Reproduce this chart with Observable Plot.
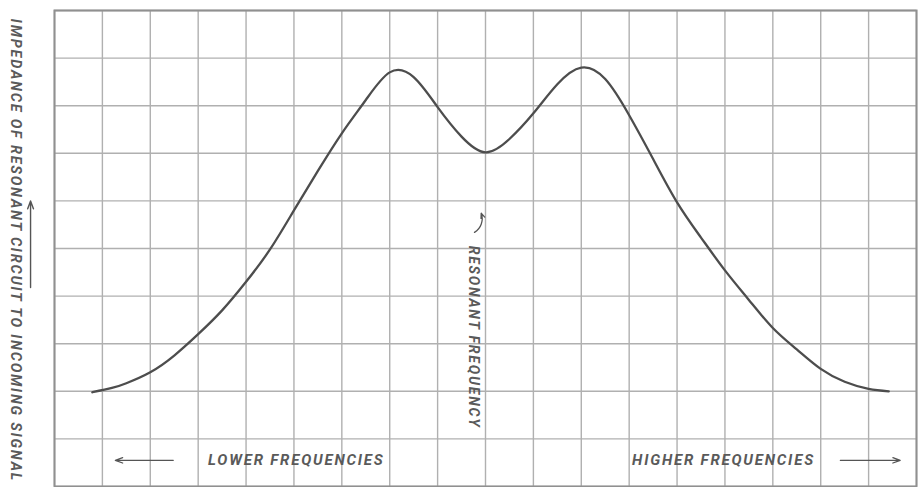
<!DOCTYPE html>
<html>
<head>
<meta charset="utf-8">
<script src="https://cdn.jsdelivr.net/npm/d3@7"></script>
<script src="https://cdn.jsdelivr.net/npm/@observablehq/plot@0.6"></script>
<style>
  html, body { margin: 0; padding: 0; background: #fff; }
  #chart svg { display: block; }
</style>
</head>
<body>
<div id="chart"></div>
<script>
// Frequency in grid units (0 .. 18, resonance at 9)
const freq = [0.79, 1.2, 1.5, 2, 2.5, 3, 3.5, 4, 4.5, 5, 5.5, 6, 6.5, 7, 7.5, 8, 8.5, 9, 9.5, 10, 10.5, 11, 11.5, 12, 12.5, 13, 13.5, 14, 14.5, 15, 15.5, 16, 16.5, 17, 17.42];
// Impedance in grid units (0 .. 10)
const impedance = [1.98, 2.07, 2.17, 2.4, 2.75, 3.2, 3.7, 4.3, 4.98, 5.8, 6.63, 7.42, 8.12, 8.7, 8.6, 7.97, 7.35, 7.02, 7.3, 7.84, 8.45, 8.8, 8.56, 7.8, 6.88, 5.97, 5.23, 4.54, 3.92, 3.33, 2.88, 2.47, 2.2, 2.05, 2.0];

const gridX = d3.range(0, 19);
const gridY = d3.range(0, 11);

const yLabel = "IMPEDANCE OF RESONANT CIRCUIT TO INCOMING SIGNAL";
const lowerLabel = "LOWER FREQUENCIES";
const higherLabel = "HIGHER FREQUENCIES";
const resonantLabel = "RESONANT FREQUENCY";
const resonance = 9;

const curve = freq.map((f, i) => ({f, z: impedance[i]}));

const textStyle = {
  fontFamily: "Roboto, 'Liberation Sans', sans-serif",
  fontSize: 15,
  fontStyle: "italic",
  fontWeight: "bold",
  fill: "#5a5a5a"
};

const chart = Plot.plot({
  width: 920,
  height: 487,
  marginLeft: 54,
  marginRight: 4,
  marginTop: 10,
  marginBottom: 1,
  x: {domain: [0, 18], axis: null},
  y: {domain: [0, 10], axis: null},
  style: {background: "#fff", letterSpacing: "1.8px"},
  marks: [
    Plot.ruleX(gridX, {stroke: "#b0b0b0", strokeWidth: 1.4}),
    Plot.ruleY(gridY, {stroke: "#b0b0b0", strokeWidth: 1.4}),
    Plot.frame({stroke: "#909090", strokeWidth: 2}),
    Plot.line(curve, {x: "f", y: "z", curve: "natural", stroke: "#4d4d4d", strokeWidth: 2.3}),
    // y label, outside the frame on the left
    Plot.text([yLabel], {frameAnchor: "left", textAnchor: "middle", dx: -39, dy: 2, rotate: 90, text: d => d, ...textStyle, fontSize: 14.4}),
    Plot.arrow([{x: -0.5, y1: 4.18, y2: 6.0}], {x1: "x", x2: "x", y1: "y1", y2: "y2", stroke: "#555", strokeWidth: 1.4, headLength: 9, headAngle: 40}),
    // bottom annotations
    Plot.text([lowerLabel], {x: 5.05, y: 0.55, text: d => d, ...textStyle}),
    Plot.arrow([{a: 2.48, b: 1.27, y: 0.55}], {x1: "a", x2: "b", y1: "y", y2: "y", stroke: "#555", strokeWidth: 1.3, headLength: 9, headAngle: 40}),
    Plot.text([higherLabel], {x: 13.97, y: 0.55, text: d => d, ...textStyle}),
    Plot.arrow([{a: 16.41, b: 17.66, y: 0.55}], {x1: "a", x2: "b", y1: "y", y2: "y", stroke: "#555", strokeWidth: 1.3, headLength: 9, headAngle: 40}),
    // resonant frequency label with hooked arrow
    Plot.text([resonantLabel], {x: resonance - 0.25, y: 3.14, rotate: 90, text: d => d, ...textStyle, fontSize: 14}),
    Plot.arrow([{a: resonance - 0.23, b: resonance - 0.09, y1: 5.34, y2: 5.74}], {x1: "a", x2: "b", y1: "y1", y2: "y2", bend: -40, stroke: "#555", strokeWidth: 1.3, headLength: 6, headAngle: 45})
  ]
});

document.getElementById("chart").appendChild(chart);
</script>
</body>
</html>
